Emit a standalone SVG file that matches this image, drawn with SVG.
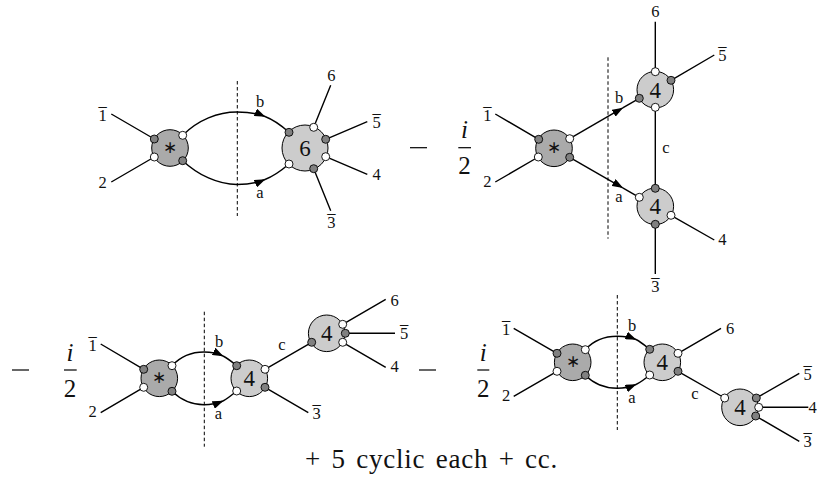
<svg xmlns="http://www.w3.org/2000/svg" width="817" height="477" viewBox="0 0 817 477">
<style>
text{font-family:"Liberation Serif","Times New Roman",serif;fill:#111;text-anchor:middle}
.l{font-size:16.5px}
.m{font-size:16.5px;text-anchor:start}
.n{font-size:23px}
.s{font-size:17px}
.f{font-size:25px}
.t{font-size:27px;text-anchor:start;word-spacing:3px;letter-spacing:.75px}
.w{fill:none;stroke:#000;stroke-width:1.4}
.a{marker-end:url(#ah)}
.d{fill:none;stroke:#000;stroke-width:1;stroke-dasharray:3.5 2.5}
.b{fill:none;stroke:#000;stroke-width:1.2}
.st{fill:#aaa;stroke:#000;stroke-width:1}
.bl{fill:#ccc;stroke:#000;stroke-width:1}
.g{fill:#808080;stroke:#000;stroke-width:.9}
.o{fill:#fff;stroke:#000;stroke-width:.9}
</style>
<defs>
<marker id="ah" markerUnits="userSpaceOnUse" markerWidth="11" markerHeight="8" viewBox="0 0 11 8" refX="10.5" refY="4" orient="auto"><path d="M0 0L11 4L0 8z" fill="#000"/></marker>
<g id="dm"><line x1="0" y1="0" x2="17" y2="0" class="b"/></g>
</defs>
<g id="connectors">
<path class="w" d="M111.3 114L154.3 139M111.3 182L154.3 157"/>
<path class="w a" d="M182.7 135.3C198 120 218 112 237 112C247 112 257 113 265 116.5"/>
<path class="w" d="M265 116.5C274 120 282 126 289 132.3"/>
<path class="w a" d="M182.7 160.7C198 175 218 184.5 237 184.5C247 184.5 257 183 265 179.5"/>
<path class="w" d="M265 179.5C274 176 282 170 289 164"/>
<path class="w" d="M330.7 85.3L313.7 127.3M367.3 121.7L325.7 139.3M367.3 174.3L325.7 156.7M330.7 210.7L313.7 168.7"/>
<line class="d" x1="237.3" y1="81" x2="237.3" y2="216"/>
<path class="w" d="M495.3 114L538.7 139.3M495.3 182L538.3 157"/>
<path class="w a" d="M569.7 138.7L622.7 107.9"/>
<path class="w" d="M622.7 107.9L639.3 98.3"/>
<path class="w a" d="M569.7 157.3L622.7 187.8"/>
<path class="w" d="M622.7 187.8L639.3 197.3"/>
<path class="w" d="M655.3 21.7V71.7M714.3 55L671 80.3M655.3 107.3V188.3M714.3 240L671 215.3M655.3 224.3V274"/>
<line class="d" x1="608" y1="57.3" x2="608" y2="238.7"/>
<path class="w" d="M100.7 344L143.7 369.3M100.7 412.7L143.7 387.3"/>
<path class="w a" d="M172 365.7C181 356 192 352 204 352C211 352 217 353 223 356"/>
<path class="w" d="M223 356C228 358.5 232 362 236.7 365.7"/>
<path class="w a" d="M172 391.3C181 400 192 404.7 204 404.7C211 404.7 217 403.5 223 401"/>
<path class="w" d="M223 401C228 398.5 232 395 236.7 391"/>
<path class="w" d="M265 369.3L311.7 342.3M265 387.3L308.3 412.7M342.7 324.3L385.7 299.3M345.3 333.3H395M342.7 342.3L385.7 367.3"/>
<line class="d" x1="204.3" y1="311.7" x2="204.3" y2="446.7"/>
<path class="w" d="M513.7 328.3L557 353.3M513.7 396.3L557 371.3"/>
<path class="w a" d="M585.3 349.7C594 340 605 336.3 617.3 336.3C624 336.3 630 337 636 339.5"/>
<path class="w" d="M636 339.5C641 342 645 345.5 649.7 349.3"/>
<path class="w a" d="M585.3 375.3C594 384 605 388.3 617.3 388.3C624 388.3 630 387 636 384.5"/>
<path class="w" d="M636 384.5C641 382 645 379 649.7 375"/>
<path class="w" d="M678 353.3L721 328.3M678 371.3L724.7 398M756.3 398L799.3 373.3M758.7 407.3H808.3M755.7 416L799.3 441.3"/>
<line class="d" x1="617.3" y1="295" x2="617.3" y2="430"/>
</g>
<g id="node-d1-star"><circle class="st" cx="170" cy="148" r="18.3"/><circle class="g" cx="154.3" cy="139" r="4"/><circle class="o" cx="182.7" cy="135.3" r="4"/><circle class="o" cx="154.3" cy="157" r="4"/><circle class="g" cx="182.7" cy="160.7" r="4"/><text class="s" x="170" y="152.5">∗</text></g>
<g id="node-d1-six"><circle class="bl" cx="305" cy="148" r="23"/><circle class="g" cx="289" cy="132.3" r="4"/><circle class="o" cx="313.7" cy="127.3" r="4"/><circle class="g" cx="325.7" cy="139.3" r="4"/><circle class="o" cx="325.7" cy="156.7" r="4"/><circle class="g" cx="313.7" cy="168.7" r="4"/><circle class="o" cx="289" cy="164" r="4"/><text class="n" x="305" y="156">6</text></g>
<g id="node-d2-star"><circle class="st" cx="554" cy="148.3" r="18.3"/><circle class="g" cx="538.7" cy="139.3" r="4"/><circle class="o" cx="569.7" cy="138.7" r="4"/><circle class="o" cx="538.3" cy="157" r="4"/><circle class="g" cx="569.7" cy="157.3" r="4"/><text class="s" x="554" y="152.8">∗</text></g>
<g id="node-d2-top"><circle class="bl" cx="655.3" cy="89.7" r="18.3"/><circle class="o" cx="655.3" cy="71.7" r="4"/><circle class="g" cx="671" cy="80.3" r="4"/><circle class="g" cx="639.3" cy="98.3" r="4"/><circle class="o" cx="655.3" cy="107.3" r="4"/><text class="n" x="655.3" y="97.5">4</text></g>
<g id="node-d2-bottom"><circle class="bl" cx="655.3" cy="206.3" r="18.3"/><circle class="g" cx="655.3" cy="188.3" r="4"/><circle class="o" cx="639.3" cy="197.3" r="4"/><circle class="o" cx="671" cy="215.3" r="4"/><circle class="g" cx="655.3" cy="224.3" r="4"/><text class="n" x="655.3" y="214">4</text></g>
<g id="node-d3-star"><circle class="st" cx="159.3" cy="378.3" r="18.3"/><circle class="g" cx="143.7" cy="369.3" r="4"/><circle class="o" cx="172" cy="365.7" r="4"/><circle class="o" cx="143.7" cy="387.3" r="4"/><circle class="g" cx="172" cy="391.3" r="4"/><text class="s" x="159.3" y="382.8">∗</text></g>
<g id="node-d3-mid"><circle class="bl" cx="249.3" cy="378.3" r="18.3"/><circle class="g" cx="236.7" cy="365.7" r="4"/><circle class="o" cx="265" cy="369.3" r="4"/><circle class="o" cx="236.7" cy="391" r="4"/><circle class="g" cx="265" cy="387.3" r="4"/><text class="n" x="249.3" y="386">4</text></g>
<g id="node-d3-right"><circle class="bl" cx="326.7" cy="333.3" r="18.3"/><circle class="g" cx="311.7" cy="342.3" r="4"/><circle class="o" cx="342.7" cy="324.3" r="4"/><circle class="g" cx="345.3" cy="333.3" r="4"/><circle class="o" cx="342.7" cy="342.3" r="4"/><text class="n" x="326.7" y="341">4</text></g>
<g id="node-d4-star"><circle class="st" cx="572.7" cy="362.3" r="18.3"/><circle class="g" cx="557" cy="353.3" r="4"/><circle class="o" cx="585.3" cy="349.7" r="4"/><circle class="o" cx="557" cy="371.3" r="4"/><circle class="g" cx="585.3" cy="375.3" r="4"/><text class="s" x="572.7" y="366.8">∗</text></g>
<g id="node-d4-mid"><circle class="bl" cx="662.3" cy="362.3" r="18.3"/><circle class="g" cx="649.7" cy="349.3" r="4"/><circle class="o" cx="678" cy="353.3" r="4"/><circle class="o" cx="649.7" cy="375" r="4"/><circle class="g" cx="678" cy="371.3" r="4"/><text class="n" x="662.3" y="370">4</text></g>
<g id="node-d4-right"><circle class="bl" cx="740" cy="407.3" r="18.3"/><circle class="o" cx="724.7" cy="398" r="4"/><circle class="g" cx="756.3" cy="398" r="4"/><circle class="o" cx="758.7" cy="407.3" r="4"/><circle class="g" cx="755.7" cy="416" r="4"/><text class="n" x="740" y="415">4</text></g>
<g id="labels">
<text class="m" x="98.6" y="121">1<tspan dx="-8.25" dy="-0.8">¯</tspan></text><text class="l" x="102.7" y="187.5">2</text><text class="l" x="331.3" y="80.5">6</text><text class="m" x="372.6" y="127.5">5<tspan dx="-8.25" dy="-0.8">¯</tspan></text><text class="l" x="376.7" y="179.5">4</text><text class="m" x="327.2" y="227.5">3<tspan dx="-8.25" dy="-0.8">¯</tspan></text><text class="l" x="260" y="107">b</text><text class="l" x="260" y="198">a</text>
<text class="m" x="483.2" y="121">1<tspan dx="-8.25" dy="-0.8">¯</tspan></text><text class="l" x="487.3" y="186.5">2</text><text class="l" x="655.3" y="17">6</text><text class="m" x="718.2" y="60.5">5<tspan dx="-8.25" dy="-0.8">¯</tspan></text><text class="l" x="722.3" y="245">4</text><text class="m" x="651.2" y="292">3<tspan dx="-8.25" dy="-0.8">¯</tspan></text><text class="l" x="619" y="103">b</text><text class="l" x="619" y="202">a</text><text class="l" x="666" y="152.5">c</text>
<text class="m" x="88.6" y="351">1<tspan dx="-8.25" dy="-0.8">¯</tspan></text><text class="l" x="92.7" y="417">2</text><text class="l" x="394.7" y="305.5">6</text><text class="m" x="399.9" y="339">5<tspan dx="-8.25" dy="-0.8">¯</tspan></text><text class="l" x="394.7" y="372">4</text><text class="m" x="312.6" y="418.5">3<tspan dx="-8.25" dy="-0.8">¯</tspan></text><text class="l" x="219" y="347">b</text><text class="l" x="218.3" y="418.5">a</text><text class="l" x="282" y="350">c</text>
<text class="m" x="501.9" y="335">1<tspan dx="-8.25" dy="-0.8">¯</tspan></text><text class="l" x="506" y="401">2</text><text class="l" x="730" y="334">6</text><text class="m" x="803.6" y="380">5<tspan dx="-8.25" dy="-0.8">¯</tspan></text><text class="l" x="812.5" y="413">4</text><text class="m" x="803.6" y="447">3<tspan dx="-8.25" dy="-0.8">¯</tspan></text><text class="l" x="632" y="331">b</text><text class="l" x="632" y="402.5">a</text><text class="l" x="695" y="399">c</text>
</g>
<g id="formula">
<use href="#dm" x="410" y="147.7"/><path class="b" d="M458.3 147.7H471"/><text class="f" x="464.5" y="138" font-style="italic">i</text><text class="f" x="464.5" y="174">2</text>
<use href="#dm" x="12" y="370"/><path class="b" d="M64 370H76.7"/><text class="f" x="70" y="360.5" font-style="italic">i</text><text class="f" x="70" y="396.5">2</text>
<use href="#dm" x="419" y="370"/><path class="b" d="M477.3 370H489.3"/><text class="f" x="483.3" y="360.5" font-style="italic">i</text><text class="f" x="483.3" y="396.5">2</text>
<text class="t" x="305" y="468">+ 5 cyclic each + cc.</text>
</g>
</svg>
